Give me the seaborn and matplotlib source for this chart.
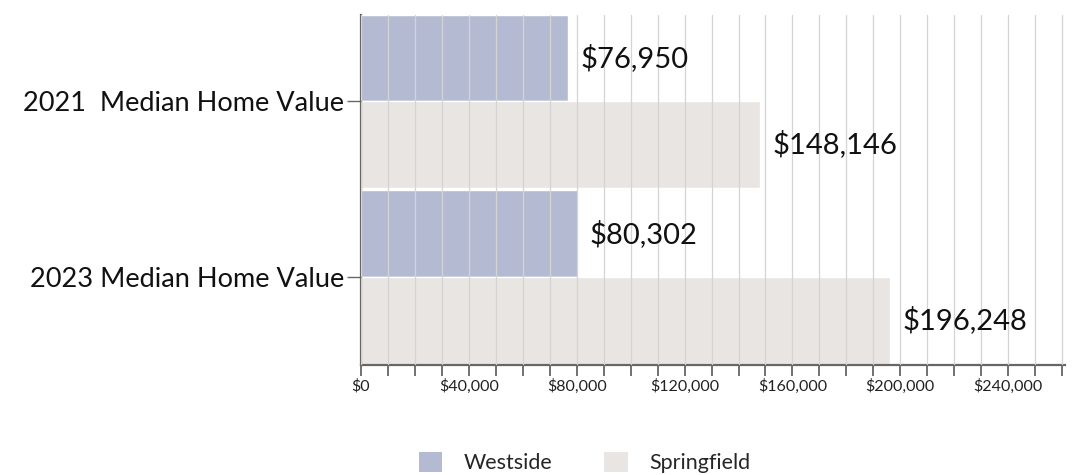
import pandas as pd
import seaborn as sns
import matplotlib.pyplot as plt
from matplotlib.patches import Patch

categories = ["2021  Median Home Value", "2023 Median Home Value"]
westside = [76950, 80302]
springfield = [148146, 196248]
series_names = ["Westside", "Springfield"]
value_labels = [["$76,950", "$80,302"], ["$148,146", "$196,248"]]
tick_values = list(range(0, 260001, 10000))

COLORS = ["#b4bad2", "#e8e5e2"]

def render_chart():
	df = pd.DataFrame({
		"category": categories * 2,
		"value": westside + springfield,
		"area": [series_names[0]] * 2 + [series_names[1]] * 2,
	})
	sns.set_theme(style="white")
	plt.rcParams["font.family"] = ["Lato", "DejaVu Sans"]
	fig = plt.figure(figsize=(10.73, 4.75), dpi=100)
	ax = fig.add_axes([0.3364, 0.2316, 0.6560, 0.7368])
	sns.barplot(data=df, y="category", x="value", hue="area", orient="h",
		palette=COLORS, width=0.985, saturation=1, legend=False, ax=ax)
	ax.set_xlim(0, 261000)
	ax.set_ylim(1.5, -0.49)
	ax.set_xlabel("")
	ax.set_ylabel("")

	# value labels right of each bar
	for container, labels in zip(ax.containers, value_labels):
		ax.bar_label(container, labels=labels, padding=9, fontsize=21, color="#111111")

	labels = [f"${v:,}" if v % 40000 == 0 else "" for v in tick_values]
	ax.set_xticks(tick_values, labels)
	ax.tick_params(axis="x", length=8, width=1.3, color="#666666", labelsize=11.5,
		labelcolor="#222222", pad=2, direction="out", bottom=True)
	ax.tick_params(axis="y", length=10, width=1.0, color="#666666", labelsize=19.5,
		labelcolor="#111111", pad=2, left=True)
	ax.grid(axis="x", color="#d4d4d4", linewidth=0.9)
	ax.set_axisbelow(False)
	for side in ["top", "right"]:
		ax.spines[side].set_visible(False)
	for side in ["left", "bottom"]:
		ax.spines[side].set_color("#666666")
		ax.spines[side].set_linewidth(1.6)

	handles = [Patch(facecolor=c, edgecolor="none") for c in COLORS]
	fig.legend(handles, series_names, loc="center", bbox_to_anchor=(0.545, 0.026),
		ncol=2, frameon=False, fontsize=15.5, handlelength=1.1, handleheight=1.1,
		columnspacing=2.4, handletextpad=1.0)
	fig.savefig("out.png", dpi=100)

render_chart()
